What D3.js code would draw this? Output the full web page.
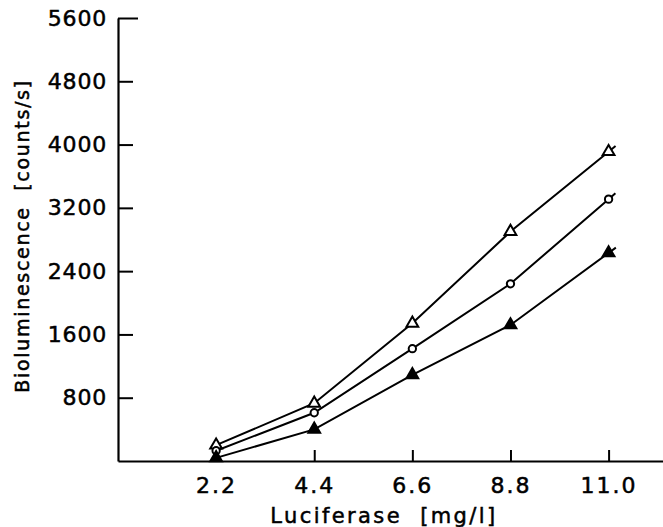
<html>
    <body style="margin:0;background:#fff">
        <script src="https://d3js.org/d3.v7.min.js"></script>

        <div id="my_dataviz"></div>

        <script>
            // data
            var luciferase = [2.2, 4.4, 6.6, 8.8, 11.0];
            var openTriangle = [200, 730, 1740, 2900, 3910];
            var openCircle = [130, 610, 1420, 2240, 3310];
            var filledTriangle = [40, 400, 1090, 1720, 2630];
            var yTicks = [800, 1600, 2400, 3200, 4000, 4800, 5600];
            var xTicks = [2.2, 4.4, 6.6, 8.8, 11.0];

            var W = 663, H = 527;
            var margin = {top: 18, right: 0, bottom: 66, left: 118};
            var width = W - margin.left - margin.right,
                height = H - margin.top - margin.bottom;

            var font = "'DejaVu Sans', sans-serif";

            var svg = d3.select("#my_dataviz")
              .append("svg")
                .attr("width", W)
                .attr("height", H)
              .append("g")
                .attr("transform", "translate(" + margin.left + "," + margin.top + ")");

            var x = d3.scaleLinear().domain([0, 12.22]).range([0, width]);
            var y = d3.scaleLinear().domain([0, 5600]).range([height, 0]);

            // Y axis, ticks pointing inside
            var yAx = svg.append("g")
              .call(d3.axisLeft(y).tickValues(yTicks).tickSizeInner(-15).tickSizeOuter(0).tickPadding(11)
                .tickFormat(d3.format("d")));
            yAx.select(".domain").attr("stroke-width", 2.2);
            yAx.selectAll(".tick line").attr("stroke-width", 2)
              .attr("x2", function(d) { return d === 5600 ? 20 : 15; });
            yAx.selectAll("text")
              .style("font-family", font).style("font-size", "22px").attr("fill", "#000")
              .attr("stroke", "#000").attr("stroke-width", 0.5)
              .attr("letter-spacing", 0.8);

            // X axis, ticks pointing up
            var xAx = svg.append("g")
              .attr("transform", "translate(0," + height + ")")
              .call(d3.axisBottom(x).tickValues(xTicks).tickSizeInner(-11).tickSizeOuter(0).tickPadding(16)
                .tickFormat(d3.format(".1f")));
            xAx.select(".domain").attr("stroke-width", 2.2);
            xAx.selectAll(".tick line").attr("stroke-width", 2);
            xAx.selectAll("text")
              .style("font-family", font).style("font-size", "22px").attr("fill", "#000")
              .attr("stroke", "#000").attr("stroke-width", 0.5)
              .attr("letter-spacing", 2);

            // axis titles
            svg.append("text")
              .attr("x", 266).attr("y", height + 62)
              .attr("text-anchor", "middle")
              .style("font-family", font).style("font-size", "21px")
              .attr("stroke", "#000").attr("stroke-width", 0.5)
              .attr("letter-spacing", 2.4)
              .style("white-space", "pre")
              .text("Luciferase  [mg/l]");
            svg.append("text")
              .attr("transform", "translate(-89," + (236 - margin.top) + ")rotate(-90)")
              .attr("text-anchor", "middle")
              .style("font-family", font).style("font-size", "19px")
              .attr("stroke", "#000").attr("stroke-width", 0.5)
              .attr("letter-spacing", 1.7)
              .style("white-space", "pre")
              .text("Bioluminescence  [counts/s]");

            var series = [
              {name: "openTriangle", values: openTriangle, marker: "triangle", fill: "#fff"},
              {name: "openCircle", values: openCircle, marker: "circle", fill: "#fff"},
              {name: "filledTriangle", values: filledTriangle, marker: "triangle", fill: "#000"}
            ];

            var line = d3.line()
              .x(function(d) { return x(d[0]); })
              .y(function(d) { return y(d[1]); });

            series.forEach(function(s) {
              var pts = luciferase.map(function(v, i) { return [v, s.values[i]]; });
              svg.append("path")
                .datum(pts)
                .attr("fill", "none")
                .attr("stroke", "#000")
                .attr("stroke-width", 2)
                .attr("d", line);

              // short tail past the last point, along the last segment
              var a = pts[pts.length - 2], b = pts[pts.length - 1];
              var dx = x(b[0]) - x(a[0]), dy = y(b[1]) - y(a[1]);
              var len = Math.sqrt(dx * dx + dy * dy);
              svg.append("line")
                .attr("x1", x(b[0])).attr("y1", y(b[1]))
                .attr("x2", x(b[0]) + dx / len * 9).attr("y2", y(b[1]) + dy / len * 9)
                .attr("stroke", "#000").attr("stroke-width", 2);

              var sym = d3.symbol()
                .type(s.marker === "circle" ? d3.symbolCircle : d3.symbolTriangle)
                .size(s.marker === "circle" ? 42 : 60);
              svg.selectAll(".m-" + s.name)
                .data(pts)
                .enter()
                .append("path")
                  .attr("class", "m-" + s.name)
                  .attr("transform", function(d) { return "translate(" + x(d[0]) + "," + y(d[1]) + ")"; })
                  .attr("d", sym)
                  .attr("fill", s.fill)
                  .attr("stroke", "#000")
                  .attr("stroke-width", 2);
            });
        </script>
    </body>
</html>
